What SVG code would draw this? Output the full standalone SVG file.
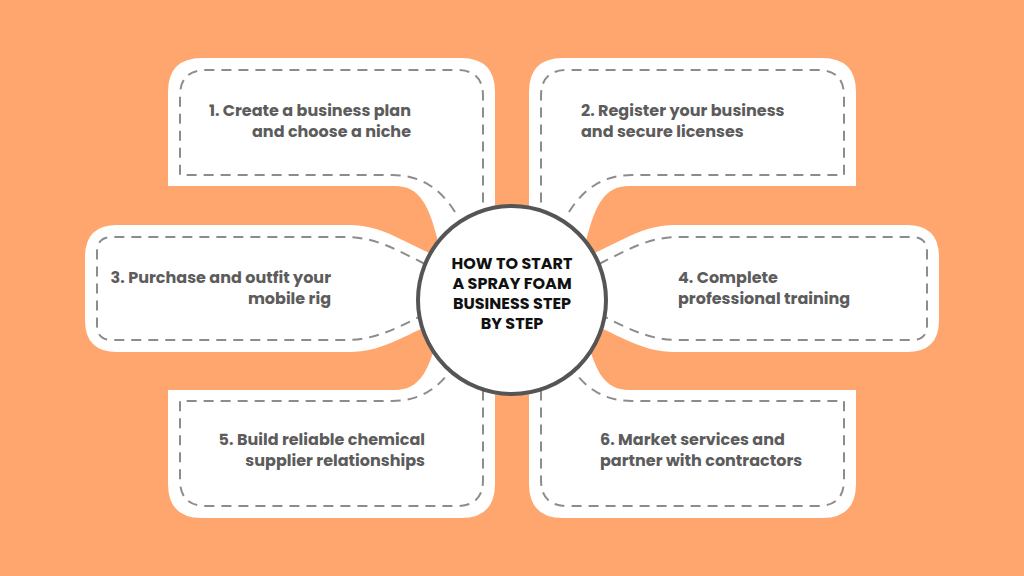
<svg xmlns="http://www.w3.org/2000/svg" width="1024" height="576" viewBox="0 0 1024 576">
<style>
.card{fill:#fff}
.dash{fill:none;stroke:#8c8c8c;stroke-width:2;stroke-dasharray:10 7}
.t{font-family:Poppins,"Open Sans","Liberation Sans",sans-serif;font-weight:700;font-size:16px;fill:#5c5c5c}
.c{font-family:Poppins,"Open Sans","Liberation Sans",sans-serif;font-weight:700;font-size:16px;fill:#111;text-anchor:middle}
</style>
<defs>
<g id="tb">
<path class="card" d="M168,92 Q168,58 202,58 L461,58 Q495,58 495,92 L495,270 L440,250 C430,205 420,186 395,186 L168,186 Z"/>
<path class="dash" d="M455,212 C440,188 420,175 392,175 L180,175 L180,96 Q180,70 206,70 L457,70 Q483,70 483,96 L483,232"/>
</g>
<g id="sb">
<path class="card" d="M117,225 L350,225 C380,225 400,240 440,258 L440,320 C400,338 380,352 350,352 L117,352 Q85,352 85,320 L85,257 Q85,225 117,225 Z"/>
<path class="dash" d="M425,264 C395,249 375,237 345,237 L112,237 Q97,237 97,252 L97,325 Q97,340 112,340 L345,340 C375,340 395,329 425,314"/>
</g>
</defs>
<rect width="1024" height="576" fill="#FFA66F"/>
<g id="connectors"></g>
<g id="n1"><use href="#tb"/><text class="t" text-anchor="end"><tspan x="411" y="116">1. Create a business plan</tspan><tspan x="411" y="137">and choose a niche</tspan></text></g>
<g id="n2"><use href="#tb" transform="matrix(-1,0,0,1,1024,0)"/><text class="t"><tspan x="581" y="116">2. Register your business</tspan><tspan x="581" y="137">and secure licenses</tspan></text></g>
<g id="n3"><use href="#sb"/><text class="t" text-anchor="end"><tspan x="331" y="283">3. Purchase and outfit your</tspan><tspan x="331" y="304">mobile rig</tspan></text></g>
<g id="n4"><use href="#sb" transform="matrix(-1,0,0,1,1024,0)"/><text class="t"><tspan x="678" y="283">4. Complete</tspan><tspan x="678" y="304">professional training</tspan></text></g>
<g id="n5"><use href="#tb" transform="matrix(1,0,0,-1,0,576)"/><text class="t" text-anchor="end"><tspan x="425" y="445">5. Build reliable chemical</tspan><tspan x="425" y="466">supplier relationships</tspan></text></g>
<g id="n6"><use href="#tb" transform="matrix(-1,0,0,-1,1024,576)"/><text class="t"><tspan x="600" y="445">6. Market services and</tspan><tspan x="600" y="466">partner with contractors</tspan></text></g>
<g id="center"><circle cx="512" cy="300" r="94" fill="#fff" stroke="#555" stroke-width="4"/>
<text class="c"><tspan x="512" y="269">HOW TO START</tspan><tspan x="512" y="289">A SPRAY FOAM</tspan><tspan x="512" y="309">BUSINESS STEP</tspan><tspan x="512" y="329">BY STEP</tspan></text></g>
</svg>
